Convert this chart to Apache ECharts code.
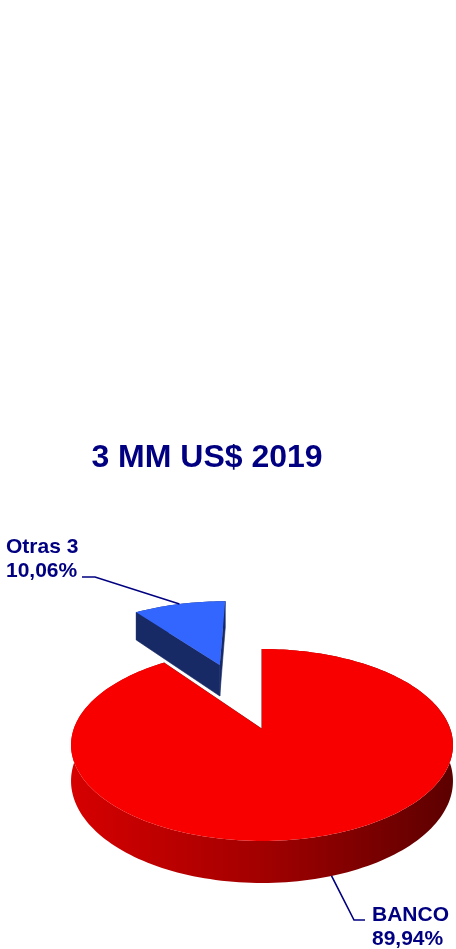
<!DOCTYPE html>
<html>
<head>
<meta charset="utf-8">
<script src="https://cdn.jsdelivr.net/npm/echarts@6/dist/echarts.min.js"></script>
<style>
  html, body { margin: 0; padding: 0; background: #ffffff; }
  #chart { width: 456px; height: 949px; }
</style>
</head>
<body>
<div id="chart"></div>
<script>
// Shares of the 2019 total, in percent
const categories = ['BANCO', 'Otras 3'];
const shares = [89.94, 10.06];
const titleText = '3 MM US$ 2019';

// Pie drawing parameters (perspective view of a tilted disc)
const CX = 262, CY = 729;     // projected centre of the disc
const RX = 188.3, RY = 93.3;  // horizontal / depth radii
const K = 1 / 6;              // perspective strength
const DEPTH = 35;             // thickness of the disc
const EXPLODE = [0, 0.815];   // radial offset of each slice

const TOP_COLORS = ['#f80000', '#3366ff'];
const SIDE_COLORS = [
  { type: 'linear', x: 0, y: 0, x2: 1, y2: 0,
    colorStops: [
      { offset: 0, color: '#d60000' },
      { offset: 0.5, color: '#a20000' },
      { offset: 1, color: '#5c0000' }
    ] },
  '#172a66'
];
const NAVY = '#000080';
const FONT = 'bold 21px "Liberation Sans", Arial, sans-serif';

// label placement: text anchor and leader elbow
const LABEL_LAYOUT = [
  { textX: 372, textY: 927, align: 'left', elbow: [354, 920], end: [365, 920], onBottom: true },
  { textX: 6, textY: 559, align: 'left', elbow: [95, 577], end: [82, 577], onBottom: false }
];

function proj(u, v, h) {
  const w = 1 + K * v;
  return [CX + RX * u / w, CY - RY * v / w + DEPTH * h / w];
}

function fmtPct(v) {
  return v.toFixed(2).replace('.', ',') + '%';
}

const total = shares.reduce((a, b) => a + b, 0);
const starts = [];
let acc = 0;
shares.forEach(v => { starts.push(acc); acc += v; });

function renderSlice(params, api) {
  const i = params.dataIndex;
  const value = api.value(0);
  const a = starts[i] / total * Math.PI * 2;
  const b = (starts[i] + value) / total * Math.PI * 2;
  const mid = (a + b) / 2;
  const ou = EXPLODE[i] * Math.sin(mid);
  const ov = EXPLODE[i] * Math.cos(mid);
  const steps = Math.max(8, Math.round(240 * value / total));
  const topArc = [], botArc = [];
  for (let s = 0; s <= steps; s++) {
    const t = a + (b - a) * s / steps;
    topArc.push(proj(ou + Math.sin(t), ov + Math.cos(t), 0));
    botArc.push(proj(ou + Math.sin(t), ov + Math.cos(t), 1));
  }
  const apexTop = proj(ou, ov, 0);
  const apexBot = proj(ou, ov, 1);
  const last = topArc.length - 1;
  const base = i === 0 ? 20 : 1;
  const side = SIDE_COLORS[i];
  const faceColor = i === 0 ? '#7a0000' : '#172a66';

  const children = [
    { type: 'polygon', z2: base,
      shape: { points: topArc.concat(botArc.slice().reverse()) },
      style: { fill: side } },
    { type: 'polygon', z2: base + 1,
      shape: { points: [apexTop, topArc[0], botArc[0], apexBot] },
      style: { fill: faceColor, stroke: faceColor, lineWidth: 0.6 } },
    { type: 'polygon', z2: base + 1,
      shape: { points: [apexTop, topArc[last], botArc[last], apexBot] },
      style: { fill: faceColor, stroke: faceColor, lineWidth: 0.6 } },
    { type: 'polygon', z2: base + 2,
      shape: { points: [apexTop].concat(topArc) },
      style: { fill: TOP_COLORS[i] } }
  ];

  // leader line and label
  const lay = LABEL_LAYOUT[i];
  const anchor = proj(ou + Math.sin(mid), ov + Math.cos(mid), lay.onBottom ? 1 : 0);
  children.push({
    type: 'polyline', z2: 40,
    shape: { points: [anchor, lay.elbow, lay.end] },
    style: { stroke: NAVY, lineWidth: 1.6, fill: null }
  });
  children.push({
    type: 'text', z2: 41,
    style: {
      x: lay.textX, y: lay.textY,
      text: categories[i] + '\n' + fmtPct(value),
      font: FONT, fill: NAVY, align: lay.align, verticalAlign: 'middle',
      lineHeight: 24.5
    }
  });
  return { type: 'group', children: children };
}

const chart = echarts.init(document.getElementById('chart'), null, { renderer: 'canvas' });
chart.setOption({
  backgroundColor: '#ffffff',
  animation: false,
  graphic: [{
    type: 'text',
    style: {
      x: 207, y: 458,
      text: titleText,
      font: 'bold 32px "Liberation Sans", Arial, sans-serif',
      fill: NAVY, align: 'center', verticalAlign: 'middle'
    }
  }],
  series: [{
    type: 'custom',
    coordinateSystem: 'none',
    renderItem: renderSlice,
    data: shares.map((v, i) => ({ name: categories[i], value: [v] }))
  }]
});
</script>
</body>
</html>
